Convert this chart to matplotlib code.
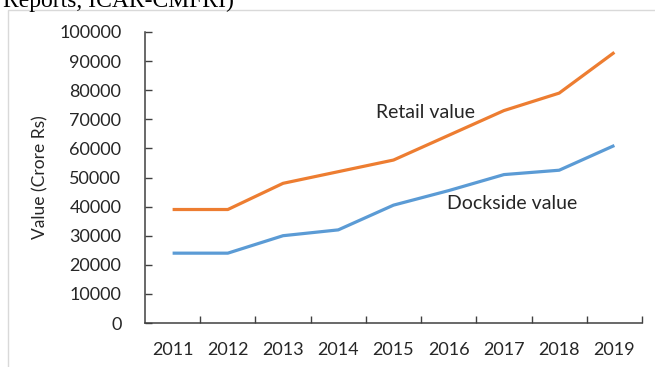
import matplotlib
matplotlib.use('Agg')
import matplotlib.pyplot as plt
from matplotlib.patches import Rectangle
from matplotlib.ticker import FixedLocator

years = ['2011', '2012', '2013', '2014', '2015', '2016', '2017', '2018', '2019']
retail = [39000, 39000, 48000, 52000, 56000, 64500, 73000, 79000, 93000]
dockside = [24000, 24000, 30000, 32000, 40500, 45500, 51000, 52500, 61000]
yticks = list(range(0, 100001, 10000))

ORANGE = '#ED7D31'
BLUE = '#5B9BD5'
AXIS = '#404040'
TEXT = '#262626'

plt.rcParams['font.family'] = ['Lato', 'DejaVu Sans']

fig = plt.figure(figsize=(6.55, 3.67), dpi=100)
fig.patch.set_facecolor('white')

# light frame of the pasted chart, running off the right and bottom edges
fig.patches.append(Rectangle((8 / 655, -0.1), 1.2, 1 - 10 / 367 + 0.1,
                             transform=fig.transFigure, fill=False,
                             edgecolor='#d9d9d9', linewidth=1.0))

# cut-off caption line from the page above (only its lower part shows)
fig.text(3 / 655, 1 - 7 / 367, 'Reports, ICAR-CMFRI)', family='Liberation Serif',
         fontsize=17, color='black', va='baseline', ha='left')

ax = fig.add_axes([145 / 655, 1 - 323 / 367, (642 - 145) / 655, (323 - 32) / 367])
x = list(range(len(years)))
ax.plot(x, retail, color=ORANGE, linewidth=2.3, solid_capstyle='butt')
ax.plot(x, dockside, color=BLUE, linewidth=2.3, solid_capstyle='butt')

ax.set_xlim(-0.5, len(years) - 0.5)
ax.set_ylim(0, 100000)
ax.set_yticks(yticks)
ax.set_yticklabels([str(v) for v in yticks])
ax.set_xticks(x)
ax.set_xticklabels(years)
ax.xaxis.set_minor_locator(FixedLocator([i + 0.5 for i in x]))

for side in ('top', 'right'):
    ax.spines[side].set_visible(False)
for side in ('left', 'bottom'):
    ax.spines[side].set_color(AXIS)
    ax.spines[side].set_linewidth(1.1)

ax.tick_params(axis='y', direction='in', length=5, width=1.0, color=AXIS,
               labelsize=13, labelcolor=TEXT, pad=17)
ax.tick_params(axis='x', which='major', length=0, labelsize=13,
               labelcolor=TEXT, pad=14)
ax.tick_params(axis='x', which='minor', direction='in', length=5, width=1.0,
               color=AXIS)

ax.set_ylabel('Value (Crore Rs)', fontsize=12.5, color=TEXT, labelpad=8)

ax.text(3.68, 72200, 'Retail value', fontsize=14, color=TEXT, ha='left', va='center')
ax.text(4.97, 41200, 'Dockside value', fontsize=14, color=TEXT, ha='left', va='center')

fig.savefig('out.png', dpi=100, facecolor='white')
